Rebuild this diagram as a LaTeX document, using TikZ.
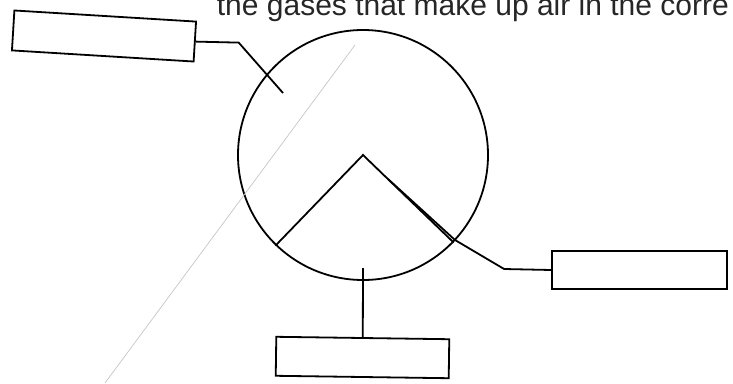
\documentclass[tikz,border=0pt]{standalone}
\usepackage{fontspec}
\setmainfont{Liberation Sans}
\begin{document}
\begin{tikzpicture}[x=1pt,y=-1pt,
    line width=1.8pt,
    labelbox/.style={draw, rectangle, inner sep=0pt, minimum width=#1, minimum height=39pt},
    scanline/.style={gray!45, line width=0.7pt}]
    \useasboundingbox (0,0) rectangle (733,383);
    \clip (0,0) rectangle (733,383);
    
    % Frage (oben abgeschnitten)
    \node[anchor=base west, inner sep=0pt, text=black!85, font=\fontsize{30}{36}\selectfont] (frage) at (216,15) {the gases that make up air in the corre};
    
    % Kreis
    \node[draw, circle, minimum size=250pt, inner sep=0pt] (luft) at (363,155) {};
    \coordinate (links) at (luft.226);
    \coordinate (rechts) at (luft.-44);
    \draw (links) -- (luft.center) -- (rechts);
    
    % Kaestchen
    \node[labelbox=182pt, minimum height=40pt, rotate=-3.5] (boxA) at (104,36) {};
    \node[labelbox=175pt, minimum height=38pt] (boxB) at (639.5,270) {};
    \node[labelbox=173pt, rotate=-0.8] (boxC) at (362.5,357.5) {};
    
    % Linien zu den Kaestchen
    \coordinate (tipA) at (283,93);
    \coordinate (bendB) at (455,240);
    \coordinate (tipB) at (388,179);
    \coordinate (tipC) at (363,268);
    \draw (boxA.east) -- ++(43,1) -- (tipA);
    \draw (boxB.west) -- ++(-47,-1) -- (bendB) -- (tipB);
    \draw (boxC.north) -- (tipC);
    
    % Bleistiftstrich
    \draw[scanline] (105,383) -- (355,45);
\end{tikzpicture}
\end{document}
